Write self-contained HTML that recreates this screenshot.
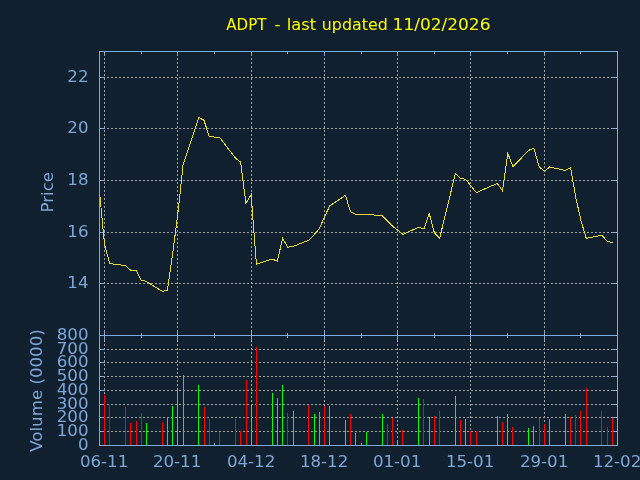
<!DOCTYPE html>
<html><head><meta charset="utf-8"><title>ADPT - last updated 11/02/2026</title>
<style>html,body{margin:0;padding:0;background:#10202f;overflow:hidden}svg{display:block}</style></head>
<body>
<svg width="640" height="480" viewBox="0 0 640 480" style="display:block">
<rect width="640" height="480" fill="#10202f"/>
<g stroke="#a3a3a1" stroke-width="1" stroke-dasharray="2,2" fill="none" shape-rendering="crispEdges">
<path d="M104.5 336.0V52.0M104.5 446.0V336.0"/>
<path d="M177.5 336.0V52.0M177.5 446.0V336.0"/>
<path d="M251.5 336.0V52.0M251.5 446.0V336.0"/>
<path d="M324.5 336.0V52.0M324.5 446.0V336.0"/>
<path d="M397.5 336.0V52.0M397.5 446.0V336.0"/>
<path d="M470.5 336.0V52.0M470.5 446.0V336.0"/>
<path d="M544.5 336.0V52.0M544.5 446.0V336.0"/>
<path d="M103.0 77.5H617.0"/>
<path d="M103.0 128.5H617.0"/>
<path d="M103.0 180.5H617.0"/>
<path d="M103.0 232.5H617.0"/>
<path d="M103.0 283.5H617.0"/>
<path d="M103.0 349.5H617.0"/>
<path d="M103.0 362.5H617.0"/>
<path d="M103.0 376.5H617.0"/>
<path d="M103.0 390.5H617.0"/>
<path d="M103.0 404.5H617.0"/>
<path d="M103.0 417.5H617.0"/>
<path d="M103.0 431.5H617.0"/>
</g>
<g stroke="#7eaadc" stroke-width="1" fill="none" shape-rendering="crispEdges">
<rect x="99.5" y="51.5" width="518.0" height="394.0"/>
<path d="M99.5 335.5H617.5"/>
<path d="M104.5 51.5v4.5M104.5 331.0v9M104.5 445.5v-4.5"/>
<path d="M177.5 51.5v4.5M177.5 331.0v9M177.5 445.5v-4.5"/>
<path d="M251.5 51.5v4.5M251.5 331.0v9M251.5 445.5v-4.5"/>
<path d="M324.5 51.5v4.5M324.5 331.0v9M324.5 445.5v-4.5"/>
<path d="M397.5 51.5v4.5M397.5 331.0v9M397.5 445.5v-4.5"/>
<path d="M470.5 51.5v4.5M470.5 331.0v9M470.5 445.5v-4.5"/>
<path d="M544.5 51.5v4.5M544.5 331.0v9M544.5 445.5v-4.5"/>
<path d="M141.5 51.5v2.5M141.5 333.0v5M141.5 445.5v-2.5"/>
<path d="M214.5 51.5v2.5M214.5 333.0v5M214.5 445.5v-2.5"/>
<path d="M287.5 51.5v2.5M287.5 333.0v5M287.5 445.5v-2.5"/>
<path d="M361.5 51.5v2.5M361.5 333.0v5M361.5 445.5v-2.5"/>
<path d="M434.5 51.5v2.5M434.5 333.0v5M434.5 445.5v-2.5"/>
<path d="M507.5 51.5v2.5M507.5 333.0v5M507.5 445.5v-2.5"/>
<path d="M580.5 51.5v2.5M580.5 333.0v5M580.5 445.5v-2.5"/>
<path d="M99.5 77.5h4.5M617.5 77.5h-4.5"/>
<path d="M99.5 128.5h4.5M617.5 128.5h-4.5"/>
<path d="M99.5 180.5h4.5M617.5 180.5h-4.5"/>
<path d="M99.5 232.5h4.5M617.5 232.5h-4.5"/>
<path d="M99.5 283.5h4.5M617.5 283.5h-4.5"/>
<path d="M99.5 349.5h4.5M617.5 349.5h-4.5"/>
<path d="M99.5 362.5h4.5M617.5 362.5h-4.5"/>
<path d="M99.5 376.5h4.5M617.5 376.5h-4.5"/>
<path d="M99.5 390.5h4.5M617.5 390.5h-4.5"/>
<path d="M99.5 404.5h4.5M617.5 404.5h-4.5"/>
<path d="M99.5 417.5h4.5M617.5 417.5h-4.5"/>
<path d="M99.5 431.5h4.5M617.5 431.5h-4.5"/>
</g>
<path d="M104.5 445.0V394.5" stroke="#ff0000" stroke-width="1" shape-rendering="crispEdges"/>
<path d="M109.5 445.0V404.5" stroke="#ff0000" stroke-width="1" shape-rendering="crispEdges"/>
<path d="M125.5 445.0V406.5" stroke="#ff0000" stroke-width="1" shape-rendering="crispEdges"/>
<path d="M130.5 445.0V423.25" stroke="#ff0000" stroke-width="1" shape-rendering="crispEdges"/>
<path d="M136.5 445.0V421.25" stroke="#ff0000" stroke-width="1" shape-rendering="crispEdges"/>
<path d="M141.5 445.0V413.25" stroke="#ff0000" stroke-width="1" shape-rendering="crispEdges"/>
<path d="M146.5 445.0V423.25" stroke="#00ff00" stroke-width="1" shape-rendering="crispEdges"/>
<path d="M162.5 445.0V421.5" stroke="#ff0000" stroke-width="1" shape-rendering="crispEdges"/>
<path d="M167.5 445.0V417" stroke="#00ff00" stroke-width="1" shape-rendering="crispEdges"/>
<path d="M172.5 445.0V406.25" stroke="#00ff00" stroke-width="1" shape-rendering="crispEdges"/>
<path d="M177.5 445.0V390" stroke="#00ff00" stroke-width="1" shape-rendering="crispEdges"/>
<path d="M183.5 445.0V375" stroke="#00ff00" stroke-width="1" shape-rendering="crispEdges"/>
<path d="M198.5 445.0V385" stroke="#00ff00" stroke-width="1" shape-rendering="crispEdges"/>
<path d="M204.5 445.0V406.5" stroke="#ff0000" stroke-width="1" shape-rendering="crispEdges"/>
<path d="M209.5 445.0V419.25" stroke="#ff0000" stroke-width="1" shape-rendering="crispEdges"/>
<path d="M219.5 445.0V431.75" stroke="#ff0000" stroke-width="1" shape-rendering="crispEdges"/>
<path d="M235.5 445.0V419.25" stroke="#ff0000" stroke-width="1" shape-rendering="crispEdges"/>
<path d="M240.5 445.0V431.25" stroke="#ff0000" stroke-width="1" shape-rendering="crispEdges"/>
<path d="M246.5 445.0V379.5" stroke="#ff0000" stroke-width="1" shape-rendering="crispEdges"/>
<path d="M251.5 445.0V405" stroke="#00ff00" stroke-width="1" shape-rendering="crispEdges"/>
<path d="M256.5 445.0V347" stroke="#ff0000" stroke-width="1" shape-rendering="crispEdges"/>
<path d="M272.5 445.0V393.25" stroke="#00ff00" stroke-width="1" shape-rendering="crispEdges"/>
<path d="M277.5 445.0V398.25" stroke="#00ff00" stroke-width="1" shape-rendering="crispEdges"/>
<path d="M282.5 445.0V385" stroke="#00ff00" stroke-width="1" shape-rendering="crispEdges"/>
<path d="M287.5 445.0V413.25" stroke="#ff0000" stroke-width="1" shape-rendering="crispEdges"/>
<path d="M293.5 445.0V411.25" stroke="#00ff00" stroke-width="1" shape-rendering="crispEdges"/>
<path d="M308.5 445.0V404.5" stroke="#ff0000" stroke-width="1" shape-rendering="crispEdges"/>
<path d="M314.5 445.0V414.25" stroke="#00ff00" stroke-width="1" shape-rendering="crispEdges"/>
<path d="M319.5 445.0V412" stroke="#00ff00" stroke-width="1" shape-rendering="crispEdges"/>
<path d="M324.5 445.0V406.25" stroke="#ff0000" stroke-width="1" shape-rendering="crispEdges"/>
<path d="M329.5 445.0V406.25" stroke="#00ff00" stroke-width="1" shape-rendering="crispEdges"/>
<path d="M345.5 445.0V420" stroke="#00ff00" stroke-width="1" shape-rendering="crispEdges"/>
<path d="M350.5 445.0V414.25" stroke="#ff0000" stroke-width="1" shape-rendering="crispEdges"/>
<path d="M355.5 445.0V433.25" stroke="#00ff00" stroke-width="1" shape-rendering="crispEdges"/>
<path d="M366.5 445.0V432" stroke="#00ff00" stroke-width="1" shape-rendering="crispEdges"/>
<path d="M382.5 445.0V414.25" stroke="#00ff00" stroke-width="1" shape-rendering="crispEdges"/>
<path d="M387.5 445.0V423.75" stroke="#ff0000" stroke-width="1" shape-rendering="crispEdges"/>
<path d="M392.5 445.0V418.25" stroke="#ff0000" stroke-width="1" shape-rendering="crispEdges"/>
<path d="M402.5 445.0V430" stroke="#ff0000" stroke-width="1" shape-rendering="crispEdges"/>
<path d="M418.5 445.0V398" stroke="#00ff00" stroke-width="1" shape-rendering="crispEdges"/>
<path d="M423.5 445.0V399.25" stroke="#ff0000" stroke-width="1" shape-rendering="crispEdges"/>
<path d="M429.5 445.0V417" stroke="#00ff00" stroke-width="1" shape-rendering="crispEdges"/>
<path d="M434.5 445.0V416.25" stroke="#ff0000" stroke-width="1" shape-rendering="crispEdges"/>
<path d="M439.5 445.0V411.25" stroke="#ff0000" stroke-width="1" shape-rendering="crispEdges"/>
<path d="M455.5 445.0V396.25" stroke="#00ff00" stroke-width="1" shape-rendering="crispEdges"/>
<path d="M460.5 445.0V420" stroke="#ff0000" stroke-width="1" shape-rendering="crispEdges"/>
<path d="M465.5 445.0V419.25" stroke="#00ff00" stroke-width="1" shape-rendering="crispEdges"/>
<path d="M470.5 445.0V431.25" stroke="#ff0000" stroke-width="1" shape-rendering="crispEdges"/>
<path d="M476.5 445.0V431.25" stroke="#ff0000" stroke-width="1" shape-rendering="crispEdges"/>
<path d="M497.5 445.0V416.25" stroke="#00ff00" stroke-width="1" shape-rendering="crispEdges"/>
<path d="M502.5 445.0V422" stroke="#ff0000" stroke-width="1" shape-rendering="crispEdges"/>
<path d="M507.5 445.0V414.25" stroke="#00ff00" stroke-width="1" shape-rendering="crispEdges"/>
<path d="M512.5 445.0V427" stroke="#ff0000" stroke-width="1" shape-rendering="crispEdges"/>
<path d="M528.5 445.0V428.25" stroke="#00ff00" stroke-width="1" shape-rendering="crispEdges"/>
<path d="M533.5 445.0V426.25" stroke="#00ff00" stroke-width="1" shape-rendering="crispEdges"/>
<path d="M539.5 445.0V418" stroke="#ff0000" stroke-width="1" shape-rendering="crispEdges"/>
<path d="M544.5 445.0V423.75" stroke="#ff0000" stroke-width="1" shape-rendering="crispEdges"/>
<path d="M549.5 445.0V419.25" stroke="#00ff00" stroke-width="1" shape-rendering="crispEdges"/>
<path d="M565.5 445.0V414.25" stroke="#00ff00" stroke-width="1" shape-rendering="crispEdges"/>
<path d="M570.5 445.0V417" stroke="#ff0000" stroke-width="1" shape-rendering="crispEdges"/>
<path d="M575.5 445.0V415" stroke="#ff0000" stroke-width="1" shape-rendering="crispEdges"/>
<path d="M580.5 445.0V411.25" stroke="#ff0000" stroke-width="1" shape-rendering="crispEdges"/>
<path d="M586.5 445.0V388.25" stroke="#ff0000" stroke-width="1" shape-rendering="crispEdges"/>
<path d="M601.5 445.0V411.25" stroke="#ff0000" stroke-width="1" shape-rendering="crispEdges"/>
<path d="M607.5 445.0V427" stroke="#ff0000" stroke-width="1" shape-rendering="crispEdges"/>
<path d="M612.5 445.0V418.25" stroke="#ff0000" stroke-width="1" shape-rendering="crispEdges"/>
<clipPath id="c"><rect x="100.0" y="52.0" width="517.0" height="283.0"/></clipPath>
<polyline clip-path="url(#c)" points="99.26,189.0 104.50,244.5 109.74,263.6 125.45,265.55 130.69,270.25 135.92,270.25 141.16,280.0 146.40,281.5 162.11,291.25 167.34,290.4 172.58,254.0 177.82,214.3 183.06,165.0 198.77,117.5 204.00,120.3 209.24,136.6 219.71,137.5 235.43,158.1 240.66,162.2 245.90,203.4 251.14,194.7 256.37,264.1 272.08,259.0 277.32,261.25 282.56,238.3 287.80,247.2 293.03,246.4 308.74,240.3 313.98,234.8 319.22,228.9 324.45,217.0 329.69,205.9 345.40,195.3 350.64,212.0 355.88,214.4 366.35,214.5 382.06,215.55 387.30,220.8 392.54,226.25 403.01,234.3 418.72,227.2 423.96,229.1 429.19,213.4 434.43,233.0 439.67,238.1 455.38,173.6 460.62,178.3 465.85,179.5 471.09,186.1 476.33,192.6 497.28,183.4 502.51,190.9 507.75,153.4 512.99,166.7 528.70,150.3 533.93,148.4 539.17,166.7 544.41,171.3 549.64,167.0 565.36,170.5 570.59,167.6 575.83,198.0 581.07,221.0 586.30,238.4 602.01,235.3 607.25,241.25 612.49,242.7" fill="none" stroke="#e8dc34" stroke-width="1" shape-rendering="crispEdges"/>
<g font-family="'DejaVu Sans','Liberation Sans',sans-serif" fill="#7ea6d6">
<text transform="translate(226.23,30.3) scale(0.916,1)" font-size="16.5" fill="#ffff00">ADPT</text>
<text x="277.6" y="30.3" font-size="16.5" text-anchor="middle" fill="#ffff00">-</text>
<text transform="translate(286.77,30.3) scale(0.983,1)" font-size="16.5" fill="#ffff00">last</text>
<text transform="translate(321.83,30.3) scale(0.961,1)" font-size="16.5" fill="#ffff00">updated</text>
<text transform="translate(392.6,30.3) scale(1.03,1)" font-size="16.5" fill="#ffff00">11/02/2026</text>
<text x="88.5" y="82.0" font-size="16.67" text-anchor="end">22</text>
<text x="88.5" y="133.0" font-size="16.67" text-anchor="end">20</text>
<text x="88.5" y="185.0" font-size="16.67" text-anchor="end">18</text>
<text x="88.5" y="237.0" font-size="16.67" text-anchor="end">16</text>
<text x="88.5" y="288.0" font-size="16.67" text-anchor="end">14</text>
<text x="88.5" y="354.0" font-size="16.67" text-anchor="end">700</text>
<text x="88.5" y="367.0" font-size="16.67" text-anchor="end">600</text>
<text x="88.5" y="381.0" font-size="16.67" text-anchor="end">500</text>
<text x="88.5" y="395.0" font-size="16.67" text-anchor="end">400</text>
<text x="88.5" y="409.0" font-size="16.67" text-anchor="end">300</text>
<text x="88.5" y="422.0" font-size="16.67" text-anchor="end">200</text>
<text x="88.5" y="436.0" font-size="16.67" text-anchor="end">100</text>
<text x="88.5" y="340.0" font-size="16.67" text-anchor="end">800</text>
<text x="88.5" y="450.0" font-size="16.67" text-anchor="end">0</text>
<text x="104.1" y="466.7" font-size="16.67" text-anchor="middle">06-11</text>
<text x="177.1" y="466.7" font-size="16.67" text-anchor="middle">20-11</text>
<text x="251.1" y="466.7" font-size="16.67" text-anchor="middle">04-12</text>
<text x="324.1" y="466.7" font-size="16.67" text-anchor="middle">18-12</text>
<text x="397.1" y="466.7" font-size="16.67" text-anchor="middle">01-01</text>
<text x="470.1" y="466.7" font-size="16.67" text-anchor="middle">15-01</text>
<text x="544.1" y="466.7" font-size="16.67" text-anchor="middle">29-01</text>
<text x="617.1" y="466.7" font-size="16.67" text-anchor="middle">12-02</text>
<text transform="translate(53,192.2) rotate(-90)" font-size="16.67" text-anchor="middle">Price</text>
<text transform="translate(41.5,390.5) rotate(-90)" font-size="16.67" text-anchor="middle">Volume (0000)</text>
</g></svg>
</body></html>
